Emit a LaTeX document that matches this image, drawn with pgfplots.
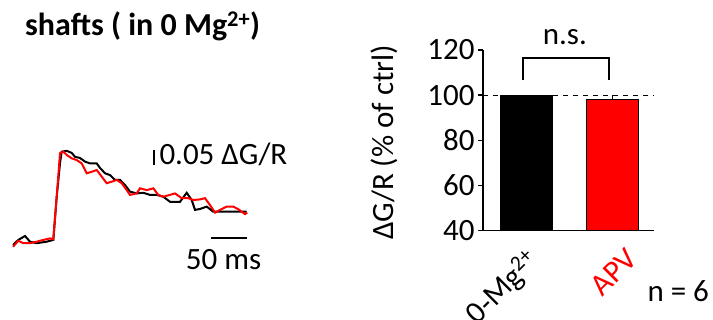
\documentclass[border=0pt]{standalone}
\usepackage{fontspec}
\setmainfont{Carlito}
\usepackage{pgfplots}
\pgfplotsset{compat=1.18}
\begin{document}
\begin{tikzpicture}[x=1pt,y=1pt,font=\fontsize{31}{36}\selectfont]
\path[use as bounding box] (0pt,0pt) rectangle (713pt,320pt);
% title
\node[anchor=base west, inner sep=0, font=\fontsize{32}{36}\selectfont\bfseries] at (25pt,284.3pt) {shafts ( in 0 Mg\textsuperscript{2+})};
% traces
\begin{axis}[at={(13pt,60pt)}, anchor=south west, scale only axis, width=234pt, height=120pt,
  xmin=0, xmax=325, ymin=-0.05, ymax=0.35, hide axis, clip=false]
\addplot[black, line width=2pt, mark=none] coordinates {
(0,0) (7.4,0.017) (16.7,0.030) (23.6,0.011) (32.9,0.006) (46.8,0.011) (56,0.017)
(60.7,0.161) (65.3,0.273) (67.6,0.311) (74.6,0.314) (81.5,0.307) (86.1,0.294)
(93.1,0.290) (100,0.278) (106.9,0.272) (116.3,0.272) (120.8,0.257) (127.8,0.239)
(134.7,0.233) (141.7,0.217) (148.6,0.217) (155.6,0.200) (162.5,0.178) (171.8,0.172)
(181,0.174) (190.3,0.167) (199.6,0.167) (208.8,0.161) (218.1,0.144) (231.9,0.144)
(241.3,0.174) (248.2,0.150) (252.8,0.117) (259.7,0.120) (269,0.128) (278.2,0.111)
(287.5,0.111) (306,0.111) (315.3,0.111) (324.6,0.111)};
\addplot[red, line width=2pt, mark=none] coordinates {
(0,-0.006) (7.4,0.014) (14.3,0.006) (23.6,0.006) (32.9,0.011) (42.1,0.017) (51.4,0.022)
(56,0.019) (60.7,0.161) (65.3,0.306) (69.9,0.311) (74.6,0.300) (81.5,0.289) (88.5,0.283)
(95.4,0.272) (102.4,0.239) (109.3,0.244) (116.3,0.250) (123.2,0.228) (130.1,0.206)
(137.1,0.211) (144,0.217) (151,0.206) (157.9,0.183) (162.5,0.167) (171.8,0.172)
(176.4,0.189) (185.7,0.183) (194.9,0.189) (201.8,0.167) (208.8,0.161) (218.1,0.167)
(225,0.172) (234.3,0.156) (243.5,0.156) (250.4,0.150) (259.7,0.152) (266.7,0.156)
(273.6,0.133) (280.6,0.108) (287.5,0.117) (296.8,0.128) (306,0.128) (313,0.119)
(322.2,0.103) (325.4,0.108)};
\draw[line width=1.6pt] (axis cs:275,0.023) -- (axis cs:325,0.023);
\draw[line width=1.6pt] (axis cs:195.8,0.265) -- (axis cs:195.8,0.315);
\end{axis}
\node[anchor=base west, inner sep=0] at (159.3pt,155.7pt) {0.05 ΔG/R};
\node[anchor=base west, inner sep=0] at (185.7pt,50.7pt) {50 ms};
% bar chart
\begin{axis}[at={(483pt,89.3pt)}, anchor=south west, scale only axis, width=171pt, height=180.7pt,
  xmin=-0.496, xmax=1.476, ymin=40, ymax=120,
  axis x line*=bottom, axis y line*=left,
  axis line style={line width=1.5pt, -},
  ytick={40,60,80,100,120}, xtick=\empty,
  major tick length=5pt, tick align=outside,
  tick style={line width=1.5pt, black},
  yticklabel style={font=\fontsize{31}{36}\selectfont, /pgf/number format/assume math mode=true},
  clip=false]
\draw[line width=1.2pt, dash pattern=on 5pt off 5pt] (axis cs:-0.496,100) -- (axis cs:1.476,100);
\addplot[ybar, bar shift=0pt, bar width=0.6, fill=black, draw=black] coordinates {(0,100)};
\addplot[ybar, bar shift=0pt, bar width=0.6, fill=red, draw=black, line width=0.8pt,
  error bars/.cd, y dir=plus, y explicit, error mark=none, error bar style={line width=1pt, black}]
  coordinates {(1,98) +- (0,2)};
\draw[line width=1.8pt] (axis cs:-0.038,106.7) -- (axis cs:-0.038,116.3) -- (axis cs:0.961,116.3) -- (axis cs:0.961,106.7);
\node[rotate=45, anchor=north east, inner sep=0] at (axis cs:-0.02,33) {0-Mg\textsuperscript{2+}};
\node[rotate=45, anchor=north east, inner sep=0, text=red] at (axis cs:1.14,33) {APV};
\end{axis}
\node[anchor=base west, inner sep=0] at (542.7pt,275pt) {n.s.};
\node[anchor=base west, inner sep=0] at (647.3pt,18.3pt) {n = 6};
\node[rotate=90, anchor=base, inner sep=0] at (393.3pt,177.6pt) {ΔG/R (\% of ctrl)};
\end{tikzpicture}
\end{document}
